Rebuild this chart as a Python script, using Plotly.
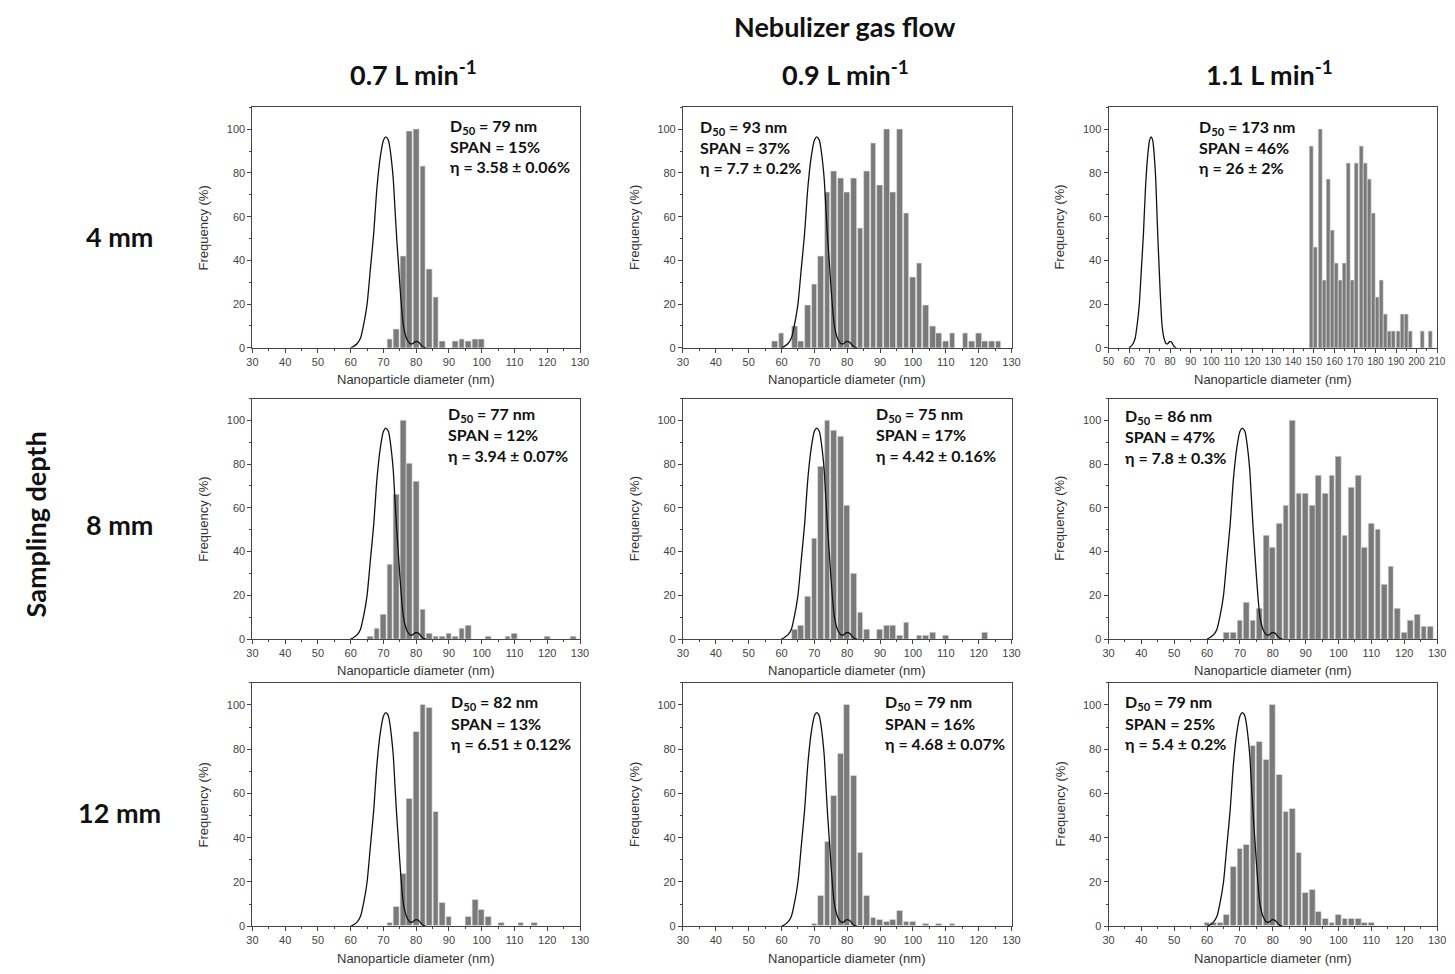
import plotly.graph_objects as go
from plotly.subplots import make_subplots

W, H = 1455, 974

# ---------------- data ----------------
# reference size distribution curve (same in every panel)
ref_x = [60, 61, 62, 63, 64, 65, 66, 67, 68, 69, 70, 70.7, 71.5, 72, 72.5, 73, 73.5, 74, 74.5, 75,
         75.5, 76, 76.5, 77, 77.5, 78, 78.5, 79, 79.5, 80, 80.5, 81, 81.5, 82, 83]
ref_y = [0, 0.8, 2, 4.5, 11, 20, 36, 52, 73, 87, 95, 96.5, 95, 91, 85, 77, 64, 51, 40, 29,
         19, 11, 7, 4.5, 3, 2, 1.8, 2, 2.7, 3, 2.8, 2.2, 1.3, 0.5, 0]

# 0.7 L/min, 4 mm
p1_x = [72, 74, 76, 78, 80, 82, 84, 86, 88, 92, 94, 96, 98, 100]
p1_y = [4, 8.5, 42, 99, 100, 83, 36, 23, 3, 3, 4, 3, 4, 4]
# 0.9 L/min, 4 mm
p2_x = [58, 60, 64, 66, 68, 70, 72, 74, 76, 78, 80, 82, 84, 86, 88, 90, 92, 94, 96, 98,
        100, 102, 104, 106, 108, 110, 112, 116, 118, 120, 122, 124, 126]
p2_y = [3.2, 6.5, 9.7, 3.2, 19.4, 29, 42, 71, 80.6, 77.4, 71, 77.4, 54.8, 80.6, 93.5, 74.2, 100, 71, 100, 61.3,
        32.3, 38.7, 19.4, 9.7, 6.5, 3.2, 6.5, 6.5, 3.2, 6.5, 3.2, 3.2, 3.2]
# 1.1 L/min, 4 mm
p3_x = [149, 151, 153, 155, 157, 159, 161, 163, 165, 167, 169, 171, 173, 175, 177, 179, 181, 183,
        185, 187, 189, 191, 193, 195, 197, 203, 207]
p3_y = [92.3, 46.2, 100, 30.8, 76.9, 53.8, 38.5, 30.8, 38.5, 84.6, 30.8, 84.6, 92.3, 84.6, 76.9, 61.5, 23.1, 30.8,
        15.4, 7.7, 7.7, 7.7, 15.4, 15.4, 7.7, 7.7, 7.7]
# 0.7 L/min, 8 mm
p4_x = [66, 68, 70, 72, 74, 76, 78, 80, 82, 84, 86, 88, 90, 92, 94, 96, 102, 108, 110, 120, 128]
p4_y = [1, 5, 11, 34, 66, 100, 80.5, 72, 13.5, 2.3, 1, 1, 2.3, 1, 5, 6, 1, 1, 2.3, 1, 1]
# 0.9 L/min, 8 mm
p5_x = [64, 66, 68, 70, 72, 74, 76, 78, 80, 82, 84, 86, 90, 92, 94, 96, 98, 102, 104, 106, 110, 122]
p5_y = [4.5, 6, 19.5, 46, 79, 100, 95.5, 92.5, 61, 30, 12, 4.5, 4.5, 6, 6, 1.5, 7.5, 1.5, 1.5, 3, 1.5, 3]
# 1.1 L/min, 8 mm
p6_x = [66, 68, 70, 72, 74, 76, 78, 80, 82, 84, 86, 88, 90, 92, 94, 96, 98, 100, 102, 104,
        106, 108, 110, 112, 114, 116, 118, 120, 122, 124, 126, 128]
p6_y = [2.8, 2.8, 8.3, 16.7, 8.3, 13.9, 47.2, 41.7, 52.8, 61.1, 100, 66.7, 66.7, 61.1, 75, 66.7, 75, 83.3, 47.2, 69.4,
        75, 41.7, 52.8, 50, 25, 33.3, 13.9, 2.8, 8.3, 11.1, 5.6, 5.6]
# 0.7 L/min, 12 mm
p7_x = [72, 74, 76, 78, 80, 82, 84, 86, 88, 90, 96, 98, 100, 102, 106, 112, 116]
p7_y = [1.5, 9, 23.5, 57.5, 88, 100, 98.5, 51.5, 10.5, 4.5, 4.5, 12, 7.5, 4.5, 1.5, 1.5, 1.5]
# 0.9 L/min, 12 mm
p8_x = [70, 72, 74, 76, 78, 80, 82, 84, 86, 88, 90, 92, 94, 96, 98, 100, 104, 108, 112]
p8_y = [1, 14, 38, 59, 78, 100, 68, 33, 14, 4, 3, 2, 3, 7, 2, 2, 1, 1, 1]
# 1.1 L/min, 12 mm
p9_x = [60, 62, 64, 66, 68, 70, 72, 74, 76, 78, 80, 82, 84, 86, 88, 90, 92, 94, 96, 98,
        100, 102, 104, 106, 108, 110]
p9_y = [1.5, 1.5, 1.5, 5, 26.7, 35, 36.7, 81.7, 83.3, 75, 100, 68.3, 51.7, 53.3, 33.3, 15, 16.7, 6.7, 3.3, 1.7,
        5, 3.3, 3.3, 3.3, 1.7, 1.7]

stats = [
    ["D<sub>50</sub> = 79 nm", "SPAN = 15%", "η = 3.58 ± 0.06%"],
    ["D<sub>50</sub> = 93 nm", "SPAN = 37%", "η = 7.7 ± 0.2%"],
    ["D<sub>50</sub> = 173 nm", "SPAN = 46%", "η = 26 ± 2%"],
    ["D<sub>50</sub> = 77 nm", "SPAN = 12%", "η = 3.94 ± 0.07%"],
    ["D<sub>50</sub> = 75 nm", "SPAN = 17%", "η = 4.42 ± 0.16%"],
    ["D<sub>50</sub> = 86 nm", "SPAN = 47%", "η = 7.8 ± 0.3%"],
    ["D<sub>50</sub> = 82 nm", "SPAN = 13%", "η = 6.51 ± 0.12%"],
    ["D<sub>50</sub> = 79 nm", "SPAN = 16%", "η = 4.68 ± 0.07%"],
    ["D<sub>50</sub> = 79 nm", "SPAN = 25%", "η = 5.4 ± 0.2%"],
]

col_titles = ["0.7 L min<sup>-1</sup>", "0.9 L min<sup>-1</sup>", "1.1 L min<sup>-1</sup>"]
row_titles = ["4 mm", "8 mm", "12 mm"]
x_ranges = [[30, 130], [30, 130], [50, 210], [30, 130], [30, 130], [30, 130], [30, 130], [30, 130], [30, 130]]

panel_x = [p1_x, p2_x, p3_x, p4_x, p5_x, p6_x, p7_x, p8_x, p9_x]
panel_y = [p1_y, p2_y, p3_y, p4_y, p5_y, p6_y, p7_y, p8_y, p9_y]

# ---------------- layout geometry (pixels) ----------------
col_px = [(249, 580), (684, 1016), (1114, 1446)]
row_px = [(108, 350), (401, 643), (687, 932)]
stat_pos = [(447, 127), (699, 128), (1203, 128),
            (445, 417), (877, 417), (1129, 419),
            (448, 707), (886, 707), (1129, 707)]

BOLD = "Lato"
AX = "Liberation Sans"

fig = make_subplots(rows=3, cols=3)

annotations = []


def px2x(px):
    return px / W


def px2y(py):
    return 1 - py / H


for i in range(9):
    r, c = divmod(i, 3)
    bw = 1.94 if i == 2 else 1.72
    fig.add_trace(go.Bar(x=panel_x[i], y=panel_y[i], width=bw,
                         marker=dict(color="#7a7a7a", line=dict(color="#e4e4e4", width=0.6)),
                         showlegend=False), row=r + 1, col=c + 1)
    fig.add_trace(go.Scatter(x=ref_x, y=ref_y, mode="lines",
                             line=dict(color="#111111", width=1.3, shape="spline", smoothing=0.6),
                             showlegend=False), row=r + 1, col=c + 1)
    sfx = "" if i == 0 else str(i + 1)
    x0, x1 = col_px[c]
    top, bot = row_px[r]
    fig.layout["xaxis" + sfx].update(
        domain=[px2x(x0), px2x(x1)], range=x_ranges[i], dtick=10, tick0=0,
        ticks="outside", ticklen=4, tickcolor="#444", showline=True, linecolor="#444",
        linewidth=1, mirror=True, showgrid=False, zeroline=False,
        tickfont=dict(family=AX, size=10 if i == 2 else 11, color="#444"),
        minor=dict(ticks="outside", ticklen=2, dtick=5, tickcolor="#444"))
    fig.layout["yaxis" + sfx].update(
        domain=[px2y(bot), px2y(top)], range=[0, 110], dtick=20, tick0=0,
        ticks="outside", ticklen=4, tickcolor="#444", showline=True, linecolor="#444",
        linewidth=1, mirror=True, showgrid=False, zeroline=False,
        tickfont=dict(family=AX, size=11, color="#444"),
        minor=dict(ticks="outside", ticklen=2, dtick=10, tickcolor="#444"))
    # axis titles
    annotations.append(dict(x=px2x((x0 + x1) / 2), y=px2y(bot + 32), xref="paper", yref="paper",
                            text="Nanoparticle diameter (nm)", showarrow=False,
                            font=dict(family=AX, size=13, color="#333"),
                            xanchor="center", yanchor="middle"))
    annotations.append(dict(x=px2x(x0 - 49), y=px2y((top + bot) / 2), xref="paper", yref="paper",
                            text="Frequency (%)", showarrow=False, textangle=-90,
                            font=dict(family=AX, size=13, color="#333"),
                            xanchor="center", yanchor="middle"))
    # statistics text
    sx, sy = stat_pos[i]
    for k, line in enumerate(stats[i]):
        annotations.append(dict(x=px2x(sx), y=px2y(sy + k * 20.5), xref="paper", yref="paper",
                                text="<b>" + line + "</b>", showarrow=False,
                                font=dict(family=BOLD, size=16, color="#111"),
                                xanchor="left", yanchor="middle"))

# headings
annotations.append(dict(x=px2x(848), y=px2y(27), xref="paper", yref="paper",
                        text="<b>Nebulizer gas flow</b>", showarrow=False,
                        font=dict(family=BOLD, size=27, color="#111"),
                        xanchor="center", yanchor="middle"))
for c, (cx) in enumerate([412, 848, 1277]):
    annotations.append(dict(x=px2x(cx), y=px2y(73), xref="paper", yref="paper",
                            text="<b>" + col_titles[c] + "</b>", showarrow=False,
                            font=dict(family=BOLD, size=27, color="#111"),
                            xanchor="center", yanchor="middle"))
for r, cy in enumerate([238, 528, 818]):
    annotations.append(dict(x=px2x(115), y=px2y(cy), xref="paper", yref="paper",
                            text="<b>" + row_titles[r] + "</b>", showarrow=False,
                            font=dict(family=BOLD, size=27, color="#111"),
                            xanchor="center", yanchor="middle"))
annotations.append(dict(x=px2x(30), y=px2y(528), xref="paper", yref="paper",
                        text="<b>Sampling depth</b>", showarrow=False, textangle=-90,
                        font=dict(family=BOLD, size=27, color="#111"),
                        xanchor="center", yanchor="middle"))

fig.update_layout(width=W, height=H, margin=dict(l=0, r=0, t=0, b=0),
                  paper_bgcolor="white", plot_bgcolor="white",
                  bargap=0, barmode="overlay", annotations=annotations,
                  showlegend=False)

fig.write_html("out.html")
